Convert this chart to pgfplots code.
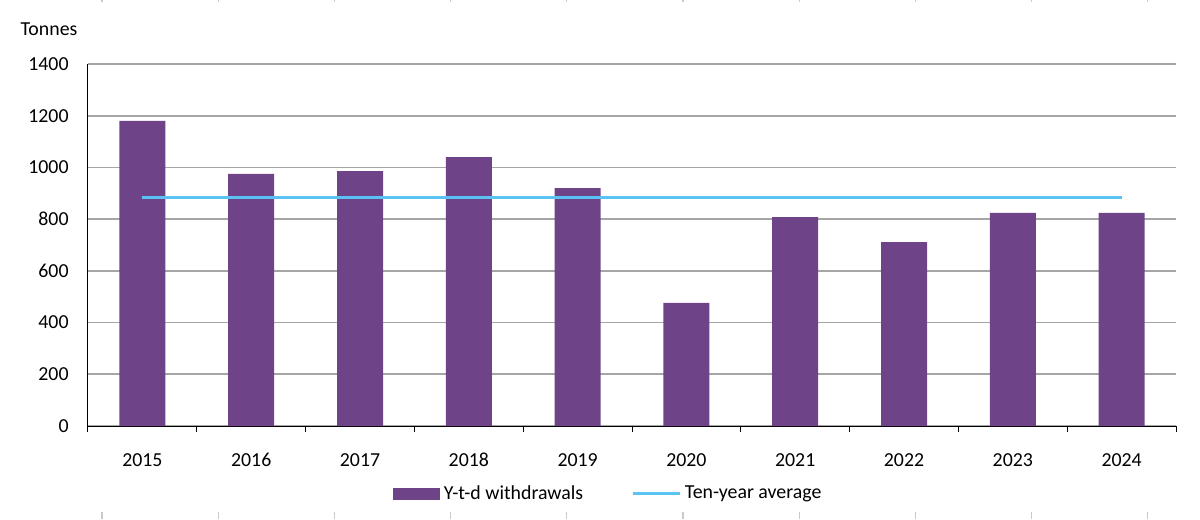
\documentclass[border=0pt]{standalone}
\usepackage{fontspec}
\setmainfont{Carlito}
\usepackage{pgfplots}
\pgfplotsset{compat=1.18}

\definecolor{barc}{HTML}{6F4388}
\definecolor{avgc}{HTML}{5BC2F4}
\definecolor{gridc}{HTML}{A6A6A6}
\definecolor{stubc}{HTML}{CACACA}

\begin{document}
\fontsize{11.9}{14.3}\selectfont
\begin{tikzpicture}
% page frame, 1px = 0.6pt, axis box origin at (88,426)px
\path[use as bounding box] (-52.8pt,-55.8pt) rectangle (667.2pt,255.6pt);
\foreach \k in {0,...,9}{
  \draw[stubc, line width=0.7pt] ({8.4pt+69.72pt*\k},-55.8pt) -- ++(0,4.2pt);
  \draw[stubc, line width=0.7pt] ({8.4pt+69.72pt*\k},255.6pt) -- ++(0,-1.2pt);
}
\node[anchor=center, inner sep=0pt] at (-23.4pt,238.2pt) {Tonnes};
\begin{axis}[
    scale only axis,
    width=652.8pt, height=217.2pt,
    xmin=-0.5, xmax=9.5,
    ymin=0, ymax=1400,
    ytick distance=200,
    xtick={0,...,9},
    xticklabels={2015,2016,2017,2018,2019,2020,2021,2022,2023,2024},
    minor xtick={-0.5,0.5,...,9.5},
    xtick align=outside,
    x tick style={draw=black, line width=0.6pt},
    major x tick style={draw=none},
    minor tick length=3.6pt,
    y tick style={draw=none},
    axis x line*=bottom,
    axis y line*=left,
    axis line style={-, black, line width=0.6pt},
    ymajorgrids=true,
    grid style={gridc, line width=1pt},
    /pgf/number format/assume math mode=true,
    /pgf/number format/1000 sep={},
    y tick label style={xshift=-7.5pt},
    x tick label style={yshift=-7.9pt},
    legend columns=2,
    legend style={at={(0.4789,-0.1878)}, anchor=center, draw=none,
        fill=none, font=\fontsize{11.9}{14.3}\selectfont,
        /tikz/every even column/.append style={column sep=27pt}},
]
\addplot[ybar, bar width=27.6pt, fill=barc, draw=none,
    legend image code/.code={\fill[barc] (0pt,-3.6pt) rectangle (28.2pt,3.6pt);}]
    coordinates {(0,1180)(1,975)(2,986)(3,1040)(4,920)(5,476)(6,808)(7,711)(8,824)(9,824)};
\addlegendentry{Y-t-d withdrawals}
\addplot[avgc, line width=1.8pt, mark=none,
    legend image code/.code={\draw[avgc, line width=1.8pt] (0pt,0pt) -- (28.2pt,0pt);}]
    coordinates {(0,882)(9,882)};
\addlegendentry{Ten-year average}
\end{axis}
\end{tikzpicture}
\end{document}
